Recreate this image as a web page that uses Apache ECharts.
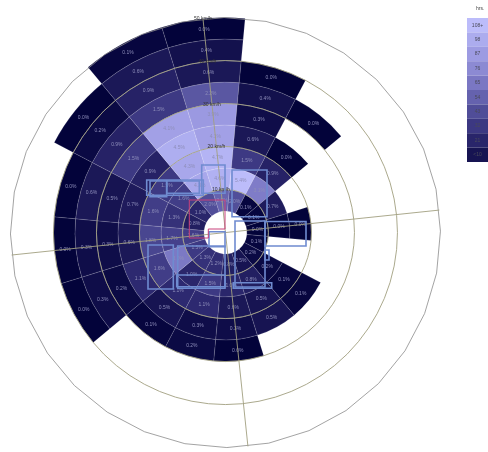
<!DOCTYPE html>
<html><head><meta charset="utf-8">
<script src="https://cdn.jsdelivr.net/npm/echarts@6/dist/echarts.min.js"></script>
<style>html,body{margin:0;padding:0;background:#fff}#c{width:488px;height:452px}</style>
</head><body><div id="c"></div>
<script>
// 16 wind directions (clockwise from N), 9 speed bins of 5 km/h (5..50 km/h)
const directions = ['N','NNE','NE','ENE','E','ESE','SE','SSE','S','SSW','SW','WSW','W','WNW','NW','NNW'];
const binLow = [5,10,15,20,25,30,35,40,45];
// share of hours (%) per speed bin, null = no observations
const pctN   = [2.5, 4.6, 4.7, 4.1, 3.9, 2.2, 0.6, 0.4, 0.0];
const pctNNE = [2.0, 5.4, 1.5, 0.6, 0.3, 0.4, 0.0, null, null];
const pctNE  = [0.1, 3.1, 0.9, 0.0, null, 0.0, null, null, null];
const pctENE = [0.1, 0.7, null, null, null, null, null, null, null];
const pctE   = [0.0, 0.0, 0.0, null, null, null, null, null, null];
const pctESE = [0.1, null, null, null, null, null, null, null, null];
const pctSE  = [0.2, 0.2, 0.1, 0.1, null, null, null, null, null];
const pctSSE = [0.5, 0.8, 0.5, 0.5, null, null, null, null, null];
const pctS   = [0.8, 1.0, 0.6, 0.3, 0.0, null, null, null, null];
const pctSSW = [1.2, 1.5, 1.1, 0.3, 0.2, null, null, null, null];
const pctSW  = [1.3, 1.0, 1.1, 0.5, 0.1, null, null, null, null];
const pctWSW = [1.5, 3.0, 1.6, 1.1, 0.2, 0.3, 0.0, null, null];
const pctW   = [1.6, 1.7, 1.8, 0.6, 0.3, 0.3, 0.0, null, null];
const pctWNW = [0.8, 1.3, 1.6, 0.7, 0.5, 0.6, 0.0, null, null];
const pctNW  = [1.0, 1.6, 1.5, 0.9, 1.5, 0.9, 0.2, 0.0, null];
const pctNNW = [2.0, 4.3, 4.3, 4.5, 4.1, 1.5, 0.9, 0.6, 0.1];
const pctByDir = [pctN,pctNNE,pctNE,pctENE,pctE,pctESE,pctSE,pctSSE,pctS,pctSSW,pctSW,pctWSW,pctW,pctWNW,pctNW,pctNNW];
const TOTAL_HOURS = 2190; // hours in the period (percent -> hours)
const radiusTicks = [10,20,30,40,50];
const legendLabels = ['108+','98','87','76','65','54','43','32','21','<10'];
const legendColors = ['#bcbcfa','#acacee','#9d9be2','#8c8ad3','#7a77c3','#6562ae','#504d98','#3c3882','#29256a','#171452'];
const LEGEND_MAX = 108;

const cells = [];
pctByDir.forEach((arr, d) => arr.forEach((p, k) => {
  if (p !== null) cells.push([d, k, p, p * TOTAL_HOURS / 100]);
}));

const overlayBoxes = [
  [201.7,165,23.3,28.3],[232,170,35,46.7],[146.7,180,56.6,15.3],[150,181,16.7,15.7],[166.7,181,32.6,12.3],
  [235,221,30,66],[265,221.5,41,24.5],[148,245,25.3,44],[177.7,246,47.3,42.3],[176.7,275,48.3,11.7],
  [209,231.7,16,15],[233.3,282.7,38.4,5.6],[265,250,4,10]
];

const chart = echarts.init(document.getElementById('c'), null, {renderer:'canvas'});
const STEP = 360 / directions.length;

function renderCell(params, api) {
  const cs = params.coordSys, cx = cs.cx, cy = cs.cy;
  const d = api.value(0), k = api.value(1);
  const lo = binLow[k], hi = lo + 5, ac = d * STEP;
  const ang = v => { const p = api.coord([50, (v + 360) % 360]); return Math.atan2(p[1] - cy, p[0] - cx); };
  const rad = v => { const p = api.coord([v, 0]); return Math.hypot(p[0] - cx, p[1] - cy); };
  let s = ang(ac - STEP / 2), e = ang(ac + STEP / 2);
  if (e < s) e += Math.PI * 2;
  const mid = api.coord([lo + 2.5, ac]);
  return {type:'group', children:[
    {type:'sector', shape:{cx, cy, r0: rad(lo), r: rad(hi), startAngle: s, endAngle: e, clockwise: true},
     style:{fill: api.visual('color'), stroke:'rgba(255,255,255,0.22)', lineWidth:0.6}},
    {type:'text', x: mid[0], y: mid[1], z2: 5,
     style:{text: api.value(2).toFixed(1) + '%', fill:'#8e8eba', fontSize:5, fontFamily:'Liberation Sans', align:'center', verticalAlign:'middle'}}
  ]};
}

function renderOuter(params, api) {
  const pts = [];
  for (let a = 5.625; a <= 365.625 + 0.01; a += 11.25) pts.push(api.coord([50, a % 360]));
  return {type:'polyline', shape:{points: pts}, style:{stroke:'#8c8c8c', lineWidth:0.8, fill:null}};
}

const graphics = [
  {type:'text', left: 476, top: 6, style:{text:'hrs.', fontSize:5, fill:'#444', fontFamily:'Liberation Sans'}}
];
legendLabels.forEach((lab, i) => {
  graphics.push({type:'rect', shape:{x:467, y:18 + i * 14.4, width:21, height:14.4}, style:{fill: legendColors[i]}});
  graphics.push({type:'text', x: 477.5, y: 18 + i * 14.4 + 7.2, style:{text: lab, fontSize:5, fill:'#4a4a5a', align:'center', verticalAlign:'middle', fontFamily:'Liberation Sans'}});
});
overlayBoxes.forEach(b => graphics.push({type:'rect', z: 100, shape:{x:b[0], y:b[1], width:b[2], height:b[3]}, style:{fill:null, stroke:'#6f8bd0', lineWidth:1.6}}));
graphics.push({type:'polyline', z:100, shape:{points:[[189.3,200],[225,200],[225,229],[208.3,229],[208.3,238],[189.3,238],[189.3,200]]}, style:{fill:null, stroke:'#c8407a', lineWidth:1}});

chart.setOption({
  animation:false,
  backgroundColor:'#fff',
  polar:{center:['46.2%','51.45%'], radius:215},
  angleAxis:{type:'value', min:0, max:360, interval:90, startAngle:96, clockwise:true, z:10,
    axisLine:{show:false}, axisTick:{show:false}, axisLabel:{show:false},
    splitLine:{show:true, lineStyle:{color:'#a29f80', width:0.9}}},
  radiusAxis:{type:'value', min:0, max:50, interval:10, z:10,
    axisLine:{show:false}, axisTick:{show:false},
    axisLabel:{show:true, margin:0, fontSize:5, color:'#333', fontFamily:'Liberation Sans', align:'center', verticalAlign:'middle',
      formatter: v => radiusTicks.indexOf(v) >= 0 ? v + ' km/h' : ''},
    splitLine:{show:true, lineStyle:{color:['#a29f80','#a29f80','#a29f80','#a29f80','#a29f80','rgba(0,0,0,0)'], width:0.9}}},
  visualMap:{show:false, type:'continuous', seriesIndex:0, dimension:3, min:0, max:LEGEND_MAX,
    inRange:{color:['#03033a'].concat(legendColors.slice().reverse())}},
  graphic: graphics,
  series:[
    {type:'custom', coordinateSystem:'polar', data: cells, renderItem: renderCell, z:2},
    {type:'custom', coordinateSystem:'polar', data:[[0]], renderItem: renderOuter, z:3, silent:true}
  ]
});
</script></body></html>
